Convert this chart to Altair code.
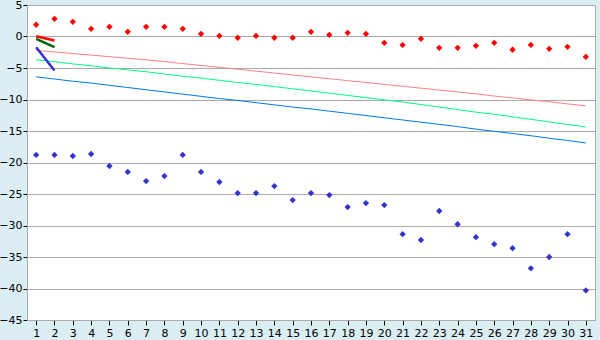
import altair as alt
import pandas as pd

days = list(range(1, 32))

red_pts = [1.86, 2.8, 2.33, 1.22, 1.54, 0.74, 1.54, 1.54, 1.22, 0.43, 0.1, -0.2, 0.1, -0.2, -0.2,
           0.74, 0.26, 0.58, 0.43, -1.0, -1.33, -0.37, -1.8, -1.8, -1.48, -1.0, -2.1, -1.33, -1.96, -1.64, -3.23]
blue_pts = [-18.8, -18.8, -18.97, -18.65, -20.56, -21.5, -22.95, -22.15, -18.8, -21.5, -23.1, -24.85, -24.85,
            -23.74, -25.97, -24.85, -25.17, -27.08, -26.44, -26.76, -31.37, -32.3, -27.7, -29.8, -31.85, -32.96,
            -33.6, -36.8, -35.0, -31.37, -40.3]

pink_line = [-2.2, -2.45, -2.7, -2.95, -3.2, -3.45, -3.7, -3.98, -4.3, -4.6, -4.9, -5.2, -5.5, -5.8, -6.1, -6.4,
             -6.7, -7.0, -7.3, -7.6, -7.9, -8.2, -8.5, -8.8, -9.1, -9.45, -9.75, -10.05, -10.35, -10.7, -11.0]
green_line = [-3.7, -4.0, -4.35, -4.65, -5.0, -5.3, -5.6, -5.95, -6.3, -6.6, -6.95, -7.3, -7.6, -7.95, -8.3, -8.65,
              -9.0, -9.35, -9.7, -10.05, -10.4, -10.8, -11.2, -11.6, -12.0, -12.35, -12.75, -13.15, -13.55, -13.95, -14.36]
blue_line = [-6.4, -6.75, -7.1, -7.4, -7.75, -8.1, -8.45, -8.8, -9.15, -9.5, -9.85, -10.15, -10.5, -10.85, -11.2, -11.5,
             -11.85, -12.2, -12.55, -12.9, -13.25, -13.6, -13.95, -14.3, -14.7, -15.05, -15.4, -15.75, -16.15, -16.5, -16.9]

short_days = [1, 2]
short_red = [0.05, -0.64]
short_green = [-0.37, -1.7]
short_blue = [-1.7, -5.4]

pts = pd.DataFrame({
    "day": days * 2,
    "v": red_pts + blue_pts,
    "s": ["r"] * 31 + ["b"] * 31,
    "c": ["#FF0000"] * 31 + ["#3333CC"] * 31,
})
trend = pd.DataFrame({
    "day": days * 3,
    "v": pink_line + green_line + blue_line,
    "s": ["p"] * 31 + ["g"] * 31 + ["b"] * 31,
    "c": ["#FF8080"] * 31 + ["#00FF80"] * 31 + ["#0077EE"] * 31,
})
short = pd.DataFrame({
    "day": short_days * 3,
    "v": short_red + short_green + short_blue,
    "s": ["r"] * 2 + ["g"] * 2 + ["b"] * 2,
    "c": ["#FF0000"] * 2 + ["#006600"] * 2 + ["#3333CC"] * 2,
})

font = "DejaVu Sans"
x = alt.X("day:Q", scale=alt.Scale(domain=[0.5, 31.5], nice=False, zero=False),
          axis=alt.Axis(values=days, grid=False, format="d", title=None, tickColor="#000000",
                        tickSize=5, domainColor="#AAAAAA", labelColor="#000000", labelFontSize=11,
                        labelFont=font, labelPadding=2))
y = alt.Y("v:Q", scale=alt.Scale(domain=[-45, 5], nice=False, zero=False),
          axis=alt.Axis(values=list(range(-45, 6, 5)), grid=True, gridColor="#AAAAAA", title=None,
                        tickColor="#000000", tickSize=4, domainColor="#AAAAAA", labelColor="#000000",
                        labelFontSize=11, labelFont=font, labelPadding=1))
col = alt.Color("c:N", scale=None)

trend_layer = alt.Chart(trend).mark_line(strokeWidth=1).encode(x=x, y=y, color=col, detail="s:N")
short_layer = alt.Chart(short).mark_line(strokeWidth=2.5).encode(x=x, y=y, color=col, detail="s:N")
pt_layer = alt.Chart(pts).mark_point(shape="diamond", filled=True, size=40, opacity=1).encode(x=x, y=y, color=col)

chart = alt.layer(trend_layer, short_layer, pt_layer).properties(
    width=568, height=315, autosize="none",
    padding={"left": 27, "top": 5, "right": 5, "bottom": 20},
    background="#DBEEF4",
).configure_view(fill="#FFFFFF", stroke="#AAAAAA", strokeWidth=1)

chart.save("out.html", embed_options={"renderer": "svg", "actions": False})
